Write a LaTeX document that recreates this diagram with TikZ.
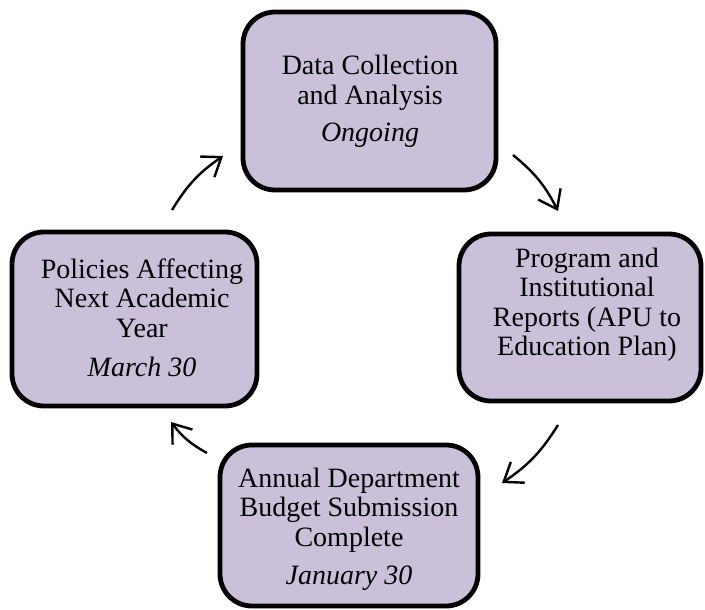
\documentclass[tikz,border=0pt]{standalone}
\usepackage{fontspec}
\setmainfont{Liberation Serif}
\usetikzlibrary{arrows.meta}
\definecolor{boxfill}{HTML}{CBC0DA}
\begin{document}
\begin{tikzpicture}[x=1pt,y=1pt,
  stagebox/.style={draw=black,line width=4.8pt,fill=boxfill,rounded corners=32pt,inner sep=0pt},
  stagetext/.style={anchor=base,inner sep=0pt,font=\fontsize{28}{29.5}\selectfont},
  cyclearrow/.style={line width=2.4pt,-{Straight Barb[length=17pt,width=25pt,line width=2.4pt]}}]
\useasboundingbox (0,0) rectangle (705,-610);
% boxes
\node[stagebox,minimum width=253pt,minimum height=178pt] (boxtop) at (369.5,-101) {};
\node[stagebox,minimum width=242pt,minimum height=167pt] (boxright) at (580,-317.5) {};
\node[stagebox,minimum width=258pt,minimum height=161pt] (boxbottom) at (349,-525.5) {};
\node[stagebox,minimum width=245pt,minimum height=174pt] (boxleft) at (134.5,-319) {};
% texts
\node[stagetext] (ttop) at (370,-75) {\parbox[t]{250pt}{\centering Data Collection\\and Analysis\\[8pt]\textit{Ongoing}}};
\node[stagetext] (tright) at (587,-267) {\parbox[t]{240pt}{\centering Program and\\Institutional\\Reports (APU to\\Education Plan)}};
\node[stagetext] (tbottom) at (349,-487) {\parbox[t]{256pt}{\centering Annual Department\\Budget Submission\\Complete\\[9pt]\textit{January 30}}};
\node[stagetext] (tleft) at (142,-278) {\parbox[t]{245pt}{\centering Policies Affecting\\Next Academic\\Year\\[10pt]\textit{March 30}}};
% arrows
\coordinate (a1s) at (513,-155); \coordinate (a1e) at (558,-211);
\coordinate (a2s) at (558,-425); \coordinate (a2e) at (502,-483);
\coordinate (a3s) at (207,-453); \coordinate (a3e) at (171,-422);
\coordinate (a4s) at (172,-210); \coordinate (a4e) at (223,-156);
\draw[cyclearrow] (a1s) to[bend left=12] (a1e);
\draw[cyclearrow] (a2s) to[bend left=12] (a2e);
\draw[cyclearrow] (a3s) to[bend left=12] (a3e);
\draw[cyclearrow] (a4s) to[bend left=12] (a4e);
\end{tikzpicture}
\end{document}
